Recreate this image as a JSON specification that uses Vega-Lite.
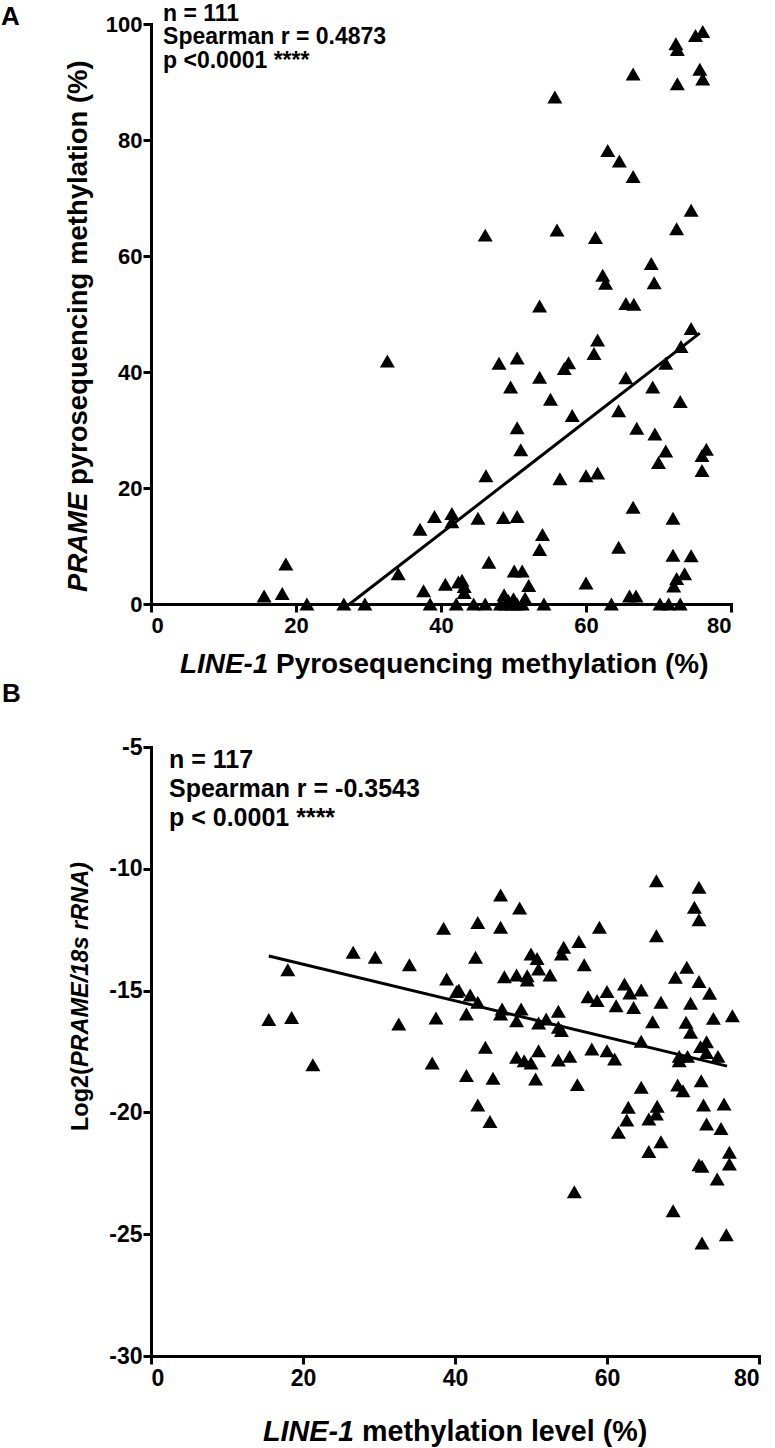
{
  "$schema": "https://vega.github.io/schema/vega-lite/v6.json",
  "background": "white",
  "padding": {"left": 0, "top": 2, "right": 0, "bottom": 0},
  "spacing": 1,
  "config": {
    "view": {"stroke": null},
    "font": "Liberation Sans",
    "axis": {
      "grid": false,
      "domainColor": "black",
      "domainWidth": 3,
      "domainCap": "square",
      "tickColor": "black",
      "tickWidth": 3,
      "tickSize": 8,
      "labelColor": "black",
      "labelFont": "Liberation Sans",
      "labelFontWeight": "bold",
      "labelFontSize": 22,
      "title": null
    },
    "axisX": {"labelPadding": 3},
    "axisY": {"labelPadding": 1}
  },
  "datasets": {
    "ptsA": [
      {"line1":76.1,"prame":98.7},{"line1":75.1,"prame":98.0},{"line1":72.4,"prame":96.6},{"line1":72.6,"prame":95.6},{"line1":66.5,"prame":91.4},{"line1":75.7,"prame":92.2},{"line1":76.1,"prame":90.5},{"line1":72.6,"prame":89.7},{"line1":55.7,"prame":87.4},{"line1":63.0,"prame":78.2},{"line1":64.6,"prame":76.4},{"line1":66.5,"prame":73.7},{"line1":74.5,"prame":67.9},{"line1":72.5,"prame":64.7},{"line1":46.1,"prame":63.6},{"line1":56.0,"prame":64.5},{"line1":61.3,"prame":63.2},{"line1":69.0,"prame":58.7},{"line1":62.3,"prame":56.7},{"line1":62.7,"prame":55.3},{"line1":69.4,"prame":55.4},{"line1":53.6,"prame":51.4},{"line1":65.5,"prame":51.8},{"line1":66.6,"prame":51.7},
      {"line1":32.6,"prame":41.9},{"line1":15.6,"prame":1.4},{"line1":18.1,"prame":1.8},{"line1":18.6,"prame":6.9},{"line1":34.1,"prame":5.2},{"line1":37.1,"prame":12.9},{"line1":39.1,"prame":15.1},{"line1":41.5,"prame":15.6},{"line1":41.5,"prame":14.2},{"line1":37.6,"prame":2.3},{"line1":40.6,"prame":3.4},
      {"line1":74.5,"prame":47.5},{"line1":73.1,"prame":44.4},{"line1":71.0,"prame":41.5},{"line1":61.6,"prame":45.5},{"line1":61.1,"prame":43.2},{"line1":48.0,"prame":41.5},{"line1":50.5,"prame":42.4},{"line1":57.6,"prame":41.6},{"line1":57.0,"prame":40.6},{"line1":53.6,"prame":39.1},{"line1":65.5,"prame":39.0},{"line1":49.6,"prame":37.4},{"line1":69.2,"prame":37.4},{"line1":55.1,"prame":35.3},{"line1":73.0,"prame":34.9},{"line1":64.5,"prame":33.3},{"line1":58.1,"prame":32.5},{"line1":50.5,"prame":30.4},{"line1":67.0,"prame":30.3},{"line1":69.5,"prame":29.3},{"line1":51.0,"prame":26.6},{"line1":71.0,"prame":26.4},{"line1":76.6,"prame":26.7},{"line1":76.0,"prame":25.6},{"line1":70.0,"prame":24.4},{"line1":76.0,"prame":23.0},{"line1":46.2,"prame":22.1},{"line1":56.4,"prame":21.6},{"line1":60.0,"prame":22.1},{"line1":61.6,"prame":22.6},{"line1":45.1,"prame":14.8},{"line1":48.6,"prame":14.9},{"line1":50.5,"prame":15.1},{"line1":66.5,"prame":16.7},{"line1":72.0,"prame":14.8},{"line1":54.0,"prame":12.0},{"line1":53.6,"prame":9.4},{"line1":64.5,"prame":9.8},{"line1":72.0,"prame":8.4},{"line1":74.5,"prame":8.3},{"line1":46.6,"prame":7.2},{"line1":50.1,"prame":5.7},{"line1":51.2,"prame":5.7},{"line1":52.1,"prame":3.2},{"line1":60.0,"prame":3.6},{"line1":73.6,"prame":5.2},{"line1":72.5,"prame":4.4},{"line1":72.1,"prame":3.1},{"line1":42.9,"prame":4.1},{"line1":43.2,"prame":3.0},{"line1":43.2,"prame":2.0},{"line1":42.4,"prame":3.8},{"line1":66.0,"prame":1.4},{"line1":66.9,"prame":1.4},{"line1":48.7,"prame":1.6},
      {"line1":21.5,"prame":0},{"line1":26.6,"prame":0},{"line1":29.5,"prame":0},{"line1":38.5,"prame":0},{"line1":42.1,"prame":0},{"line1":44.5,"prame":0},{"line1":46.1,"prame":0},{"line1":48.2,"prame":0},{"line1":48.9,"prame":0},{"line1":49.8,"prame":0},{"line1":50.5,"prame":0},{"line1":51.2,"prame":0},{"line1":54.2,"prame":0},{"line1":63.5,"prame":0},{"line1":70.2,"prame":0},{"line1":71.4,"prame":0},{"line1":73.0,"prame":0},
      {"line1":49.3,"prame":0.6},{"line1":50.0,"prame":0.9},{"line1":51.6,"prame":1.0},{"line1":49.2,"prame":0.3}
    ],
    "regA": [{"line1":27.4,"prame":0},{"line1":75.7,"prame":46.7}],
    "ptsB": [
      {"line1":38.5,"log2":-12.44},{"line1":26.6,"log2":-13.43},{"line1":29.5,"log2":-13.63},{"line1":34.0,"log2":-13.94},{"line1":18.0,"log2":-14.14},{"line1":38.9,"log2":-14.52},{"line1":40.2,"log2":-15.04},{"line1":15.5,"log2":-16.19},{"line1":18.5,"log2":-16.1},{"line1":32.6,"log2":-16.37},{"line1":37.5,"log2":-16.12},{"line1":21.3,"log2":-18.04},{"line1":37.0,"log2":-17.97},
      {"line1":66.5,"log2":-10.49},{"line1":72.1,"log2":-10.76},{"line1":71.5,"log2":-11.58},{"line1":72.1,"log2":-12.09},{"line1":66.5,"log2":-12.75},{"line1":46.0,"log2":-11.08},{"line1":48.5,"log2":-11.61},{"line1":43.0,"log2":-12.2},{"line1":46.0,"log2":-12.4},{"line1":59.0,"log2":-12.4},{"line1":56.3,"log2":-12.98},{"line1":54.3,"log2":-13.22},{"line1":54.0,"log2":-13.5},{"line1":42.7,"log2":-13.63},{"line1":50.0,"log2":-13.5},{"line1":50.8,"log2":-13.68},{"line1":51.0,"log2":-14.11},{"line1":57.0,"log2":-13.94},{"line1":70.5,"log2":-14.04},{"line1":69.0,"log2":-14.45},{"line1":72.1,"log2":-14.63},{"line1":73.5,"log2":-15.11},{"line1":46.5,"log2":-14.43},{"line1":48.1,"log2":-14.36},{"line1":49.5,"log2":-14.39},{"line1":49.5,"log2":-14.56},{"line1":52.5,"log2":-14.36},{"line1":62.3,"log2":-14.73},{"line1":64.5,"log2":-14.98},{"line1":63.0,"log2":-15.1},{"line1":60.0,"log2":-15.04},{"line1":57.5,"log2":-15.25},{"line1":58.7,"log2":-15.41},{"line1":61.2,"log2":-15.62},{"line1":63.5,"log2":-15.69},{"line1":67.1,"log2":-15.48},{"line1":71.0,"log2":-15.52},{"line1":76.5,"log2":-16.03},{"line1":74.0,"log2":-16.14},{"line1":66.0,"log2":-16.28},{"line1":70.4,"log2":-16.3},{"line1":40.5,"log2":-14.98},{"line1":42.0,"log2":-15.18},{"line1":43.0,"log2":-15.48},{"line1":41.5,"log2":-15.96},{"line1":46.2,"log2":-15.76},{"line1":46.0,"log2":-15.96},{"line1":48.7,"log2":-15.76},{"line1":48.1,"log2":-16.24},{"line1":53.6,"log2":-15.85},{"line1":52.0,"log2":-16.17},{"line1":51.0,"log2":-16.33},
      {"line1":54.0,"log2":-16.64},{"line1":53.6,"log2":-16.5},{"line1":71.0,"log2":-16.71},{"line1":64.5,"log2":-17.08},{"line1":73.1,"log2":-17.1},{"line1":44.0,"log2":-17.33},{"line1":48.1,"log2":-17.74},{"line1":49.1,"log2":-17.88},{"line1":50.0,"log2":-17.97},{"line1":51.0,"log2":-17.47},{"line1":53.6,"log2":-17.85},{"line1":55.1,"log2":-17.7},{"line1":58.0,"log2":-17.4},{"line1":60.0,"log2":-17.47},{"line1":61.0,"log2":-17.81},{"line1":69.5,"log2":-17.7},{"line1":70.6,"log2":-17.7},{"line1":69.5,"log2":-17.88},{"line1":73.1,"log2":-17.54},{"line1":74.6,"log2":-17.7},{"line1":41.5,"log2":-18.49},{"line1":45.0,"log2":-18.6},{"line1":50.6,"log2":-18.63},{"line1":56.1,"log2":-18.86},{"line1":64.5,"log2":-18.97},{"line1":69.3,"log2":-18.88},{"line1":70.0,"log2":-19.11},{"line1":72.4,"log2":-18.7},{"line1":43.0,"log2":-19.7},{"line1":44.6,"log2":-20.37},{"line1":62.8,"log2":-19.79},{"line1":66.6,"log2":-19.75},{"line1":66.5,"log2":-20.07},{"line1":65.5,"log2":-20.27},{"line1":62.6,"log2":-20.31},{"line1":61.5,"log2":-20.82},{"line1":67.1,"log2":-21.2},{"line1":65.5,"log2":-21.61},{"line1":72.7,"log2":-19.7},{"line1":75.4,"log2":-19.66},{"line1":73.1,"log2":-20.48},{"line1":75.0,"log2":-20.66},{"line1":76.1,"log2":-21.64},{"line1":76.1,"log2":-22.12},{"line1":72.1,"log2":-22.15},{"line1":72.5,"log2":-22.21},{"line1":74.5,"log2":-22.73},{"line1":55.7,"log2":-23.26},{"line1":68.7,"log2":-24.04},{"line1":75.7,"log2":-25.02},{"line1":72.5,"log2":-25.36},{"line1":72.3,"log2":-17.3}
    ],
    "regB": [{"line1":15.5,"log2":-13.58},{"line1":75.8,"log2":-18.1}]
  },
  "vconcat": [
    {
      "width": 580,
      "height": 580,
      "layer": [
        {
          "data": {"name": "ptsA"},
          "mark": {"type": "point", "shape": "triangle-up", "filled": true, "color": "black", "opacity": 1, "size": 225},
          "encoding": {
            "x": {"field": "line1", "type": "quantitative", "scale": {"domain": [0, 80], "nice": false, "zero": false}, "axis": {"values": [0, 20, 40, 60, 80]}},
            "y": {"field": "prame", "type": "quantitative", "scale": {"domain": [0, 100], "nice": false}, "axis": {"values": [0, 20, 40, 60, 80, 100]}}
          }
        },
        {
          "data": {"name": "regA"},
          "mark": {"type": "line", "color": "black", "strokeWidth": 3},
          "encoding": {
            "x": {"field": "line1", "type": "quantitative"},
            "y": {"field": "prame", "type": "quantitative"}
          }
        },
        {
          "data": {"values": [{}]},
          "mark": {"type": "text", "text": ["n = 111", "Spearman r = 0.4873", "p <0.0001 ****"], "align": "left", "baseline": "alphabetic", "fontSize": 23, "lineHeight": 23.5, "fontWeight": "bold", "color": "black"},
          "encoding": {"x": {"datum": 1.66, "type": "quantitative"}, "y": {"datum": 100.6, "type": "quantitative"}}
        },
        {
          "data": {"values": [{}]},
          "mark": {"type": "text", "text": "A", "align": "left", "baseline": "alphabetic", "fontSize": 26, "fontWeight": "bold", "color": "black"},
          "encoding": {"x": {"datum": -20.7, "type": "quantitative"}, "y": {"datum": 99.9, "type": "quantitative"}}
        },
        {
          "data": {"values": [{}]},
          "mark": {"type": "text", "text": "LINE-1", "align": "right", "baseline": "alphabetic", "fontSize": 27.9, "fontWeight": "bold", "fontStyle": "italic", "color": "black"},
          "encoding": {"x": {"datum": 16.19, "type": "quantitative"}, "y": {"datum": -11.9, "type": "quantitative"}}
        },
        {
          "data": {"values": [{}]},
          "mark": {"type": "text", "text": "Pyrosequencing methylation (%)", "align": "left", "baseline": "alphabetic", "dx": 7.7, "fontSize": 27.9, "fontWeight": "bold", "color": "black"},
          "encoding": {"x": {"datum": 16.19, "type": "quantitative"}, "y": {"datum": -11.9, "type": "quantitative"}}
        },
        {
          "data": {"values": [{}]},
          "mark": {"type": "text", "text": "PRAME", "angle": 270, "align": "right", "baseline": "alphabetic", "fontSize": 27.5, "fontWeight": "bold", "fontStyle": "italic", "color": "black"},
          "encoding": {"x": {"datum": -8.83, "type": "quantitative"}, "y": {"datum": 19.2, "type": "quantitative"}}
        },
        {
          "data": {"values": [{}]},
          "mark": {"type": "text", "text": "pyrosequencing methylation (%)", "angle": 270, "align": "left", "baseline": "alphabetic", "dx": 7.6, "fontSize": 27.5, "fontWeight": "bold", "color": "black"},
          "encoding": {"x": {"datum": -8.83, "type": "quantitative"}, "y": {"datum": 19.2, "type": "quantitative"}}
        }
      ]
    },
    {
      "width": 608,
      "height": 609,
      "layer": [
        {
          "data": {"name": "ptsB"},
          "mark": {"type": "point", "shape": "triangle-up", "filled": true, "color": "black", "opacity": 1, "size": 225},
          "encoding": {
            "x": {"field": "line1", "type": "quantitative", "scale": {"domain": [0, 80], "nice": false, "zero": false}, "axis": {"values": [0, 20, 40, 60, 80], "labelFontSize": 23}},
            "y": {"field": "log2", "type": "quantitative", "scale": {"domain": [-30, -5], "nice": false, "zero": false}, "axis": {"values": [-30, -25, -20, -15, -10, -5], "labelFontSize": 23, "labelExpr": "datum.value + ''"}}
          }
        },
        {
          "data": {"name": "regB"},
          "mark": {"type": "line", "color": "black", "strokeWidth": 3},
          "encoding": {
            "x": {"field": "line1", "type": "quantitative"},
            "y": {"field": "log2", "type": "quantitative"}
          }
        },
        {
          "data": {"values": [{}]},
          "mark": {"type": "text", "text": ["n = 117", "Spearman r = -0.3543", "p < 0.0001 ****"], "align": "left", "baseline": "alphabetic", "fontSize": 25, "lineHeight": 29, "fontWeight": "bold", "color": "black"},
          "encoding": {"x": {"datum": 2.37, "type": "quantitative"}, "y": {"datum": -5.86, "type": "quantitative"}}
        },
        {
          "data": {"values": [{}]},
          "mark": {"type": "text", "text": "B", "align": "left", "baseline": "alphabetic", "fontSize": 26, "fontWeight": "bold", "color": "black"},
          "encoding": {"x": {"datum": -19.6, "type": "quantitative"}, "y": {"datum": -3.15, "type": "quantitative"}}
        },
        {
          "data": {"values": [{}]},
          "mark": {"type": "text", "text": "LINE-1", "align": "right", "baseline": "alphabetic", "fontSize": 28.7, "fontWeight": "bold", "fontStyle": "italic", "color": "black"},
          "encoding": {"x": {"datum": 26.7, "type": "quantitative"}, "y": {"datum": -33.48, "type": "quantitative"}}
        },
        {
          "data": {"values": [{}]},
          "mark": {"type": "text", "text": "methylation level (%)", "align": "left", "baseline": "alphabetic", "dx": 8, "fontSize": 28.7, "fontWeight": "bold", "color": "black"},
          "encoding": {"x": {"datum": 26.7, "type": "quantitative"}, "y": {"datum": -33.48, "type": "quantitative"}}
        },
        {
          "data": {"values": [{}]},
          "mark": {"type": "text", "text": "Log2(", "angle": 270, "align": "right", "baseline": "alphabetic", "fontSize": 23.5, "fontWeight": "bold", "color": "black"},
          "encoding": {"x": {"datum": -8.29, "type": "quantitative"}, "y": {"datum": -18.14, "type": "quantitative"}}
        },
        {
          "data": {"values": [{}]},
          "mark": {"type": "text", "text": "PRAME/18s rRNA)", "angle": 270, "align": "left", "baseline": "alphabetic", "fontSize": 23.5, "fontWeight": "bold", "fontStyle": "italic", "color": "black"},
          "encoding": {"x": {"datum": -8.29, "type": "quantitative"}, "y": {"datum": -18.14, "type": "quantitative"}}
        }
      ]
    }
  ]
}
